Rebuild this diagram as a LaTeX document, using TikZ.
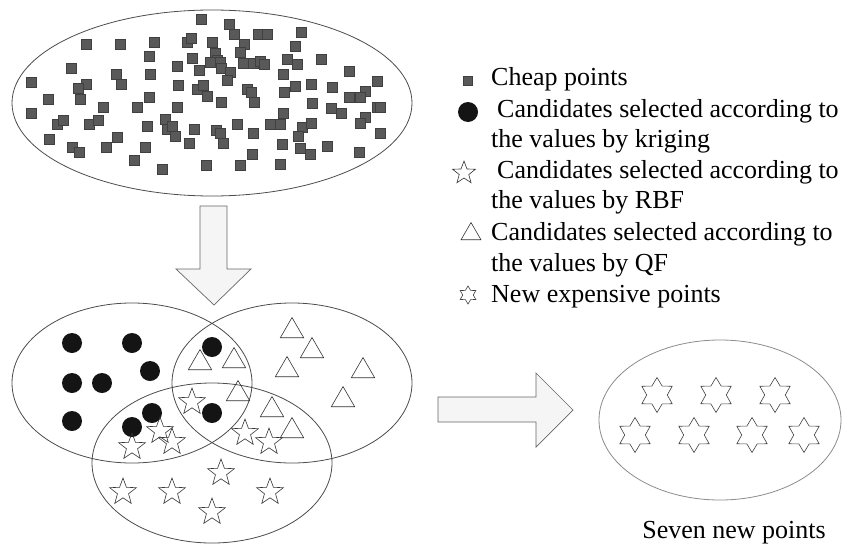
\documentclass[tikz,border=0pt]{standalone}
\usepackage{fontspec}
\setmainfont{Liberation Serif}
\usepackage{tikz}
\usetikzlibrary{shapes.geometric, positioning}
\tikzset{
  region/.style={
    draw=black!70,
    ellipse,
    line width=0.8pt,
    inner sep=0pt
  },
  cheap/.style={
    rectangle,
    fill=black!65,
    draw=black!75,
    line width=0.3pt,
    minimum size=10pt,
    inner sep=0pt
  },
  kriging/.style={
    circle,
    fill=black!92,
    minimum size=20pt,
    inner sep=0pt
  },
  rbf/.style={
    star,
    star points=5,
    star point ratio=2.4,
    draw=black!80,
    line width=0.6pt,
    minimum size=28pt,
    inner sep=0pt
  },
  qf/.style={
    regular polygon,
    regular polygon sides=3,
    draw=black!80,
    line width=0.6pt,
    minimum size=27pt,
    inner sep=0pt
  },
  newpt/.style={
    star,
    star points=6,
    star point ratio=1.7,
    draw=black!75,
    line width=0.6pt,
    minimum size=35pt,
    inner sep=0pt
  },
  blockarrow/.style={
    draw=black!60,
    fill=black!4,
    line width=0.7pt,
    line join=miter
  },
  legtext/.style={
    anchor=base west,
    inner sep=0pt,
    font=\fontsize{26}{30}\selectfont
  }
}

\begin{document}
\begin{tikzpicture}[x=1pt, y=-1pt]
\useasboundingbox (0,0) rectangle (858,546);

% Cheap points
\node[region, minimum width=400pt, minimum height=186pt] (pool) at (212,103) {};
\foreach \x/\y [count=\i] in {201/19, 229/24, 234/34, 258/34, 267/34, 301/32,
    86/44, 120/44, 154/42, 187/42, 191/38, 212/42, 244/44, 295/46,
    149/56, 192/58, 215/53, 240/52, 217/60, 210/62, 220/62, 243/63, 253/63,
    260/61, 264/64, 287/59, 297/64, 321/59,
    71/68, 116/74, 177/66, 199/70, 221/68, 230/72, 283/74, 349/71,
    31/82, 86/84, 78/88, 121/84, 150/74, 178/85, 197/89, 203/85, 227/80,
    247/89, 251/92, 295/86, 311/84, 332/87, 377/81, 365/91,
    48/99, 80/99, 103/107, 137/107, 149/97, 177/107, 207/96, 221/102,
    254/102, 284/92, 349/97, 360/97, 312/103, 331/108, 341/113, 377/107, 380/107,
    31/113, 57/124, 63/120, 89/124, 98/120, 117/137, 147/126, 165/119,
    167/129, 172/126, 175/136, 194/129, 216/130, 220/133, 223/143, 237/124,
    253/133, 270/124, 280/124, 283/113, 302/127, 298/136, 311/123, 365/117,
    360/123, 380/133,
    49/139, 72/147, 79/152, 106/147, 145/147, 189/143, 282/144, 300/148,
    310/154, 327/146, 359/152, 252/154,
    134/160, 162/169, 206/165, 240/165, 280/164}
  \node[cheap] (c\i) at (\x,\y) {};

% Arrow down
\draw[blockarrow] (200,206) -- (227,206) -- (227,269) -- (251,269) -- (214,305)
  -- (176,269) -- (200,269) -- cycle;

% Candidate sets
\node[region, minimum width=240pt, minimum height=160pt] (setk) at (132,383) {};
\node[region, minimum width=240pt, minimum height=160pt] (setq) at (292,383) {};
\node[region, minimum width=240pt, minimum height=160pt] (setr) at (212,463) {};

\foreach \x/\y [count=\i] in {72/343, 132/343, 150/371, 72/383, 102/383,
    72/421, 152/413, 132/427, 212/347, 212/413}
  \node[kriging] (k\i) at (\x,\y) {};

\foreach \x/\y [count=\i] in {292/331, 312/351, 287/370, 363/371, 343/400,
    200/363, 234/361, 238/394, 272/410, 292/431}
  \node[qf] (q\i) at (\x,\y) {};

\foreach \x/\y [count=\i] in {192/402, 160/431, 132/447, 172/442, 245/433,
    269/442, 221/473, 123/492, 172/492, 270/492, 212/512}
  \node[rbf] (r\i) at (\x,\y) {};

% Arrow right
\draw[blockarrow] (438,397) -- (536,397) -- (536,373) -- (573,410) -- (536,447)
  -- (536,422) -- (438,422) -- cycle;

% New expensive points
\node[region, draw=black!45, minimum width=242pt, minimum height=160pt] (setn) at (720,420) {};
\foreach \x/\y [count=\i] in {657/395, 716/395, 775/395,
    635/435, 694/435, 752/435, 804/435}
  \node[newpt] (n\i) at (\x,\y) {};
\node[legtext, anchor=base] (seven) at (734,538) {Seven new points};

% Legend
\node[cheap, minimum size=9pt] (keyc) at (468,81) {};
\node[kriging] (keyk) at (468,112) {};
\node[rbf, minimum size=24pt] (keyr) at (464,173) {};
\node[qf, minimum size=23pt] (keyq) at (471,234) {};
\node[newpt, minimum size=18pt] (keyn) at (468,295) {};

\node[legtext] (lc) at (491,85) {Cheap points};
\node[legtext] (lk1) at (497,117) {Candidates selected according to};
\node[legtext] (lk2) at (491,147) {the values by kriging};
\node[legtext] (lr1) at (497,178) {Candidates selected according to};
\node[legtext] (lr2) at (491,208) {the values by RBF};
\node[legtext] (lq1) at (491,240) {Candidates selected according to};
\node[legtext] (lq2) at (491,271) {the values by QF};
\node[legtext] (ln) at (491,302) {New expensive points};

\end{tikzpicture}
\end{document}
